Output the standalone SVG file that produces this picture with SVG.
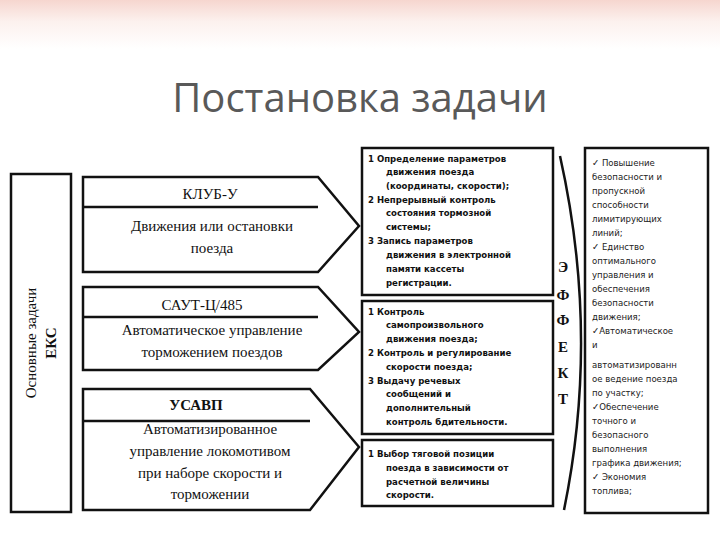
<svg xmlns="http://www.w3.org/2000/svg" width="720" height="540" viewBox="0 0 720 540">
<defs>
<linearGradient id="bg" x1="0" y1="0" x2="0" y2="1"><stop offset="0" stop-color="#f6d6cf"/><stop offset="0.04" stop-color="#fcf1ee"/><stop offset="0.09" stop-color="#ffffff"/></linearGradient>
<style>
.s{fill:#fff;stroke:#111;stroke-width:2.5}
.l{stroke:#111;stroke-width:2.5;fill:none}
.t{font-family:"Liberation Serif",serif;font-size:15px;fill:#111;text-anchor:middle}
.m{font-family:"DejaVu Sans Condensed","Liberation Sans",sans-serif;font-size:9.5px;fill:#111;font-weight:bold}
.r{font-family:"DejaVu Sans Condensed","Liberation Sans",sans-serif;font-size:9.5px;fill:#222}
.e{font-family:"Liberation Serif",serif;font-size:15px;font-weight:bold;fill:#111;text-anchor:middle}
</style>
</defs>
<rect width="720" height="540" fill="url(#bg)"/>
<text x="360" y="112" font-family="Open Sans,Liberation Sans,sans-serif" font-size="40" fill="#595959" text-anchor="middle">Постановка задачи</text>
<g id="left"><rect class="s" x="11" y="174" width="60" height="338"/>
<text class="t" transform="translate(36,343) rotate(-90)">Основные задачи</text>
<text class="t" font-weight="bold" transform="translate(56,343) rotate(-90)">ЕКС</text></g>
<g id="klub"><polygon class="s" points="83,177 318,177 359,226 318,272 83,272"/><line class="l" x1="83" y1="207" x2="318" y2="207"/>
<text class="t" x="210" y="199">КЛУБ-У</text><text class="t" x="212" y="231">Движения или остановки</text><text class="t" x="212" y="253">поезда</text></g>
<g id="saut"><polygon class="s" points="83,287 318,287 359,332 318,370 83,370"/><line class="l" x1="83" y1="317" x2="318" y2="317"/>
<text class="t" x="202" y="310">САУТ-Ц/485</text><text class="t" x="212" y="335">Автоматическое управление</text><text class="t" x="212" y="357">торможением поездов</text></g>
<g id="usavp"><polygon class="s" points="83,389 310,389 359,447 310,510 83,510"/><line class="l" x1="83" y1="421" x2="310" y2="421"/>
<text class="t" font-weight="bold" x="196" y="410">УСАВП</text><text class="t" x="210" y="434">Автоматизированное</text><text class="t" x="210" y="456">управление локомотивом</text><text class="t" x="210" y="478">при наборе скорости и</text><text class="t" x="210" y="499">торможении</text></g>
<g id="b1"><rect class="s" x="362" y="148" width="191" height="147"/>
<text class="m" x="368" y="162">1 Определение параметров</text><text class="m" x="386" y="175">движения поезда</text><text class="m" x="386" y="189">(координаты, скорости);</text><text class="m" x="368" y="203">2 Непрерывный контроль</text><text class="m" x="386" y="216">состояния тормозной</text><text class="m" x="386" y="230">системы;</text><text class="m" x="368" y="244">3 Запись параметров</text><text class="m" x="386" y="258">движения в электронной</text><text class="m" x="386" y="272">памяти кассеты</text><text class="m" x="386" y="286">регистрации.</text></g>
<g id="b2"><rect class="s" x="362" y="301" width="191" height="133"/>
<text class="m" x="368" y="315">1 Контроль</text><text class="m" x="386" y="328">самопроизвольного</text><text class="m" x="386" y="342">движения поезда;</text><text class="m" x="368" y="356">2 Контроль и регулирование</text><text class="m" x="386" y="370">скорости поезда;</text><text class="m" x="368" y="384">3 Выдачу речевых</text><text class="m" x="386" y="397">сообщений и</text><text class="m" x="386" y="411">дополнительный</text><text class="m" x="386" y="425">контроль бдительности.</text></g>
<g id="b3"><rect class="s" x="362" y="440" width="191" height="66"/>
<text class="m" x="368" y="457">1 Выбор тяговой позиции</text><text class="m" x="386" y="471">поезда в зависимости от</text><text class="m" x="386" y="485">расчетной величины</text><text class="m" x="386" y="498">скорости.</text></g>
<g id="connectors"><path class="l" stroke-width="3" d="M560,156 Q600,335 564,510"/></g>
<g id="effect"><text class="e" x="563" y="272">Э</text><text class="e" x="563" y="300">Ф</text><text class="e" x="563" y="325">Ф</text><text class="e" x="563" y="352">Е</text><text class="e" x="563" y="378">К</text><text class="e" x="563" y="404">Т</text></g>
<g id="right"><rect class="s" x="585" y="148" width="123" height="365"/>
<text class="r" x="592" y="166">✓ Повышение</text><text class="r" x="592" y="180">безопасности и</text><text class="r" x="592" y="194">пропускной</text><text class="r" x="592" y="208">способности</text><text class="r" x="592" y="222">лимитирующих</text><text class="r" x="592" y="236">линий;</text><text class="r" x="592" y="250">✓ Единство</text><text class="r" x="592" y="264">оптимального</text><text class="r" x="592" y="278">управления и</text><text class="r" x="592" y="292">обеспечения</text><text class="r" x="592" y="306">безопасности</text><text class="r" x="592" y="320">движения;</text><text class="r" x="592" y="334">✓Автоматическое</text><text class="r" x="592" y="348">и</text><text class="r" x="592" y="368">автоматизированн</text><text class="r" x="592" y="382">ое ведение поезда</text><text class="r" x="592" y="396">по участку;</text><text class="r" x="592" y="410">✓Обеспечение</text><text class="r" x="592" y="424">точного и</text><text class="r" x="592" y="438">безопасного</text><text class="r" x="592" y="452">выполнения</text><text class="r" x="592" y="466">графика движения;</text><text class="r" x="592" y="480">✓ Экономия</text><text class="r" x="592" y="494">топлива;</text></g>
</svg>
